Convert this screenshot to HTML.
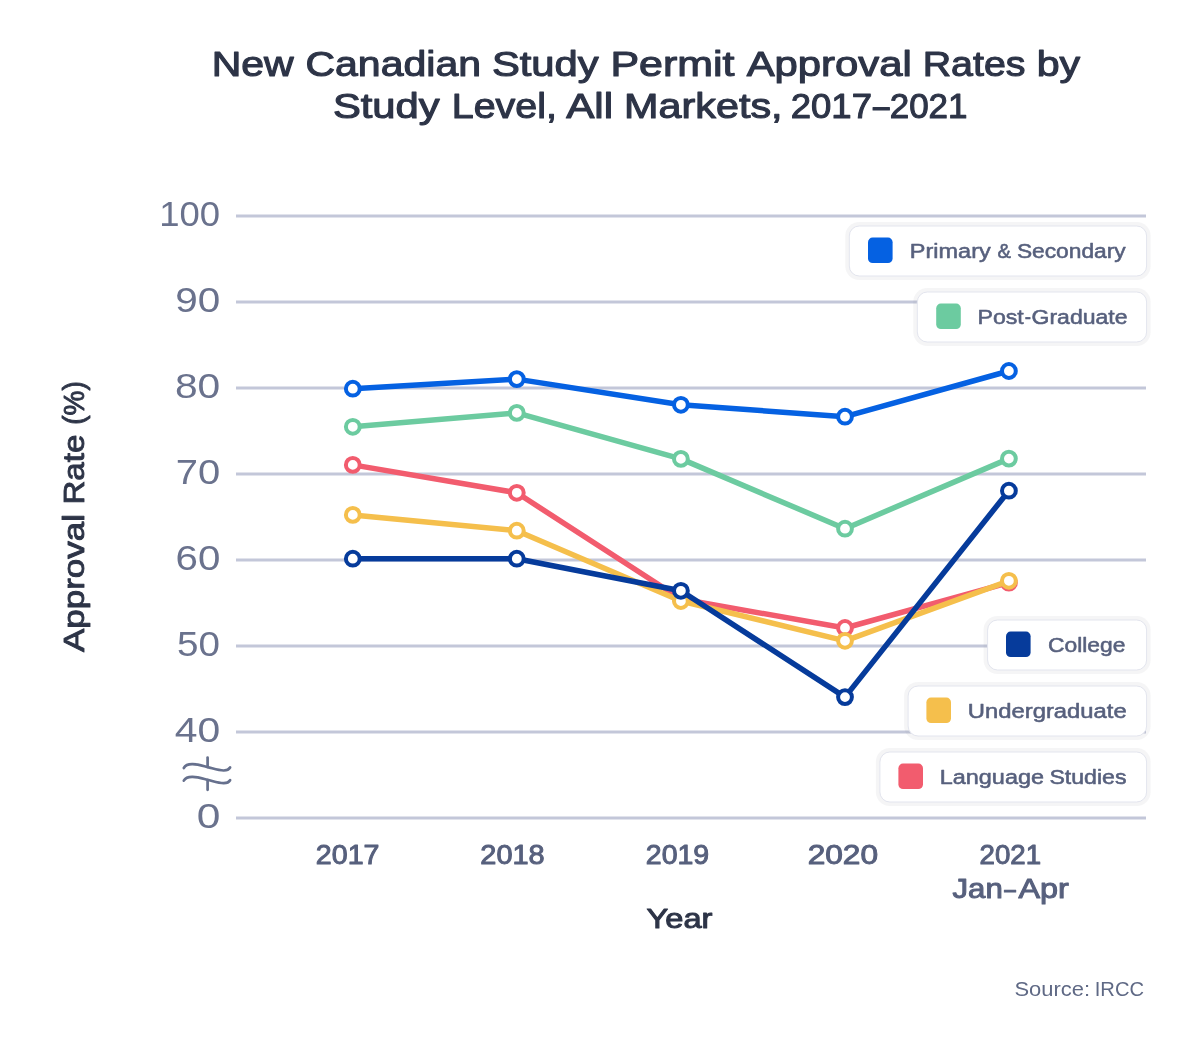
<!DOCTYPE html>
<html>
<head>
<meta charset="utf-8">
<title>New Canadian Study Permit Approval Rates by Study Level</title>
<style>
html,body{margin:0;padding:0;background:#fff;}
body{width:1200px;height:1056px;overflow:hidden;font-family:"Liberation Sans",sans-serif;}
svg{display:block;will-change:transform;}
text{font-family:"Liberation Sans",sans-serif;}
.title{fill:#2d3447;font-size:35.5px;stroke:#2d3447;stroke-width:1.1px;stroke-linejoin:round;}
.ytick{fill:#6a728d;font-size:35.6px;}
.xtick{fill:#57607d;font-size:27.8px;stroke:#57607d;stroke-width:1px;stroke-linejoin:round;}
.axis{fill:#2d3447;font-size:27.6px;stroke:#2d3447;stroke-width:1.0px;stroke-linejoin:round;}
.ylab{fill:#2d3447;font-size:29.5px;stroke:#2d3447;stroke-width:0.9px;stroke-linejoin:round;}
.leg{fill:#57607d;font-size:20.5px;stroke:#57607d;stroke-width:0.55px;stroke-linejoin:round;}
.src{fill:#5f6985;font-size:20.5px;}
.grid line{stroke:#c3c7d9;stroke-width:3;}
.ln{fill:none;stroke-width:5.5;stroke-linejoin:round;stroke-linecap:round;}
.mk circle{fill:#fff;stroke-width:4;}
</style>
</head>
<body>
<svg width="1200" height="1056" viewBox="0 0 1200 1056">
<rect x="0" y="0" width="1200" height="1056" fill="#ffffff"/>
<!-- Gridlines -->
<g class="grid">
<line x1="236" y1="216" x2="1146" y2="216"/>
<line x1="236" y1="302" x2="1146" y2="302"/>
<line x1="236" y1="388" x2="1146" y2="388"/>
<line x1="236" y1="474" x2="1146" y2="474"/>
<line x1="236" y1="560" x2="1146" y2="560"/>
<line x1="236" y1="646" x2="1146" y2="646"/>
<line x1="236" y1="732" x2="1146" y2="732"/>
<line x1="236" y1="818" x2="1146" y2="818"/>
</g>

<!-- Y tick labels -->


<!-- Axis break -->
<g fill="none" stroke="#66708d" stroke-width="2.7" stroke-linecap="round" stroke-linejoin="round">
<line x1="207.6" y1="757.6" x2="207.6" y2="767"/>
<line x1="207.6" y1="780" x2="207.6" y2="789.8"/>
<path d="M183.8 768 C185.6 764.8 188.6 764.1 192.6 764.2 C198.4 764.4 203 766 207.6 767.1 C213 768.4 219 770.6 223.8 770.5 C226.8 770.4 228.9 769.5 230.1 767.5"/>
<path d="M183.8 780.7 C185.6 777.5 188.6 776.8 192.6 776.9 C198.4 777.1 203 778.7 207.6 779.8 C213 781.1 219 783.3 223.8 783.2 C226.8 783.1 228.9 782.2 230.1 780.2"/>
</g>

<!-- Y axis title -->

<!-- X tick labels -->


<!-- Series lines -->
<polyline class="ln" stroke="#0561e2" points="352.8,388.7 516.8,379.1 680.9,404.8 845,416.7 1008.9,371"/>
<polyline class="ln" stroke="#6ccba0" points="352.8,426.8 516.8,412.9 680.9,458.9 845,528.7 1008.9,458.6"/>
<polyline class="ln" stroke="#f25c6e" points="352.8,464.9 516.8,492.8 680.9,599 845,628 1008.9,582.7"/>
<g class="mk" stroke="#f25c6e">
<circle cx="352.8" cy="464.9" r="6.9"/><circle cx="516.8" cy="492.8" r="6.9"/><circle cx="680.9" cy="599" r="6.9"/><circle cx="845" cy="628" r="6.9"/><circle cx="1008.9" cy="582.7" r="6.9"/>
</g>
<polyline class="ln" stroke="#f5bf4c" points="352.8,514.9 516.8,530.7 680.9,601 845,640.8 1008.9,580.8"/>
<g class="mk" stroke="#f5bf4c">
<circle cx="352.8" cy="514.9" r="6.9"/><circle cx="516.8" cy="530.7" r="6.9"/><circle cx="680.9" cy="601" r="6.9"/><circle cx="845" cy="640.8" r="6.9"/><circle cx="1008.9" cy="580.8" r="6.9"/>
</g>
<polyline class="ln" stroke="#063b9b" points="352.8,558.7 516.8,558.7 680.9,590.8 845,697.1 1008.9,490.7"/>
<g class="mk" stroke="#063b9b">
<circle cx="352.8" cy="558.7" r="6.9"/><circle cx="516.8" cy="558.7" r="6.9"/><circle cx="680.9" cy="590.8" r="6.9"/><circle cx="845" cy="697.1" r="6.9"/><circle cx="1008.9" cy="490.7" r="6.9"/>
</g>
<g class="mk" stroke="#0561e2">
<circle cx="352.8" cy="388.7" r="6.9"/><circle cx="516.8" cy="379.1" r="6.9"/><circle cx="680.9" cy="404.8" r="6.9"/><circle cx="845" cy="416.7" r="6.9"/><circle cx="1008.9" cy="371" r="6.9"/>
</g>
<g class="mk" stroke="#6ccba0">
<circle cx="352.8" cy="426.8" r="6.9"/><circle cx="516.8" cy="412.9" r="6.9"/><circle cx="680.9" cy="458.9" r="6.9"/><circle cx="845" cy="528.7" r="6.9"/><circle cx="1008.9" cy="458.6" r="6.9"/>
</g>

<!-- Legend -->
<g id="legend">
<rect x="845.3" y="222.0" width="305.3" height="58.0" rx="14" fill="#8c8ca0" fill-opacity="0.09"/>
<rect x="849.3" y="226.0" width="297.3" height="50" rx="10" fill="#fff" stroke="#e3e5ee" stroke-width="1"/>
<rect x="868.0" y="237.6" width="24.6" height="25.4" rx="4.6" fill="#0561e2"/>
<rect x="913.3" y="288.0" width="237.3" height="58.0" rx="14" fill="#8c8ca0" fill-opacity="0.09"/>
<rect x="917.3" y="292.0" width="229.3" height="50" rx="10" fill="#fff" stroke="#e3e5ee" stroke-width="1"/>
<rect x="936.2" y="303.6" width="24.6" height="25.4" rx="4.6" fill="#6ccba0"/>
<rect x="983.6" y="616.0" width="167.0" height="58.0" rx="14" fill="#8c8ca0" fill-opacity="0.09"/>
<rect x="987.6" y="620.0" width="159.0" height="50" rx="10" fill="#fff" stroke="#e3e5ee" stroke-width="1"/>
<rect x="1006.0" y="631.6" width="24.6" height="25.4" rx="4.6" fill="#063b9b"/>
<rect x="904.1" y="682.0" width="246.5" height="58.0" rx="14" fill="#8c8ca0" fill-opacity="0.09"/>
<rect x="908.1" y="686.0" width="238.5" height="50" rx="10" fill="#fff" stroke="#e3e5ee" stroke-width="1"/>
<rect x="926.4" y="697.6" width="24.6" height="25.4" rx="4.6" fill="#f5bf4c"/>
<rect x="875.9" y="748.0" width="274.7" height="58.0" rx="14" fill="#8c8ca0" fill-opacity="0.09"/>
<rect x="879.9" y="752.0" width="266.7" height="50" rx="10" fill="#fff" stroke="#e3e5ee" stroke-width="1"/>
<rect x="898.4" y="763.6" width="24.6" height="25.4" rx="4.6" fill="#f25c6e"/>
</g>

<!-- Source -->

<!-- Text -->
<text id="t1a" class="title" x="211.70" y="75.8" textLength="82.00" lengthAdjust="spacingAndGlyphs">New</text>
<text id="t1b" class="title" x="305.45" y="75.8" textLength="175.55" lengthAdjust="spacingAndGlyphs">Canadian</text>
<text id="t1c" class="title" x="491.90" y="75.8" textLength="106.80" lengthAdjust="spacingAndGlyphs">Study</text>
<text id="t1d" class="title" x="610.45" y="75.8" textLength="124.00" lengthAdjust="spacingAndGlyphs">Permit</text>
<text id="t1e" class="title" x="746.65" y="75.8" textLength="165.15" lengthAdjust="spacingAndGlyphs">Approval</text>
<text id="t1f" class="title" x="922.70" y="75.8" textLength="102.85" lengthAdjust="spacingAndGlyphs">Rates</text>
<text id="t1g" class="title" x="1036.70" y="75.8" textLength="43.50" lengthAdjust="spacingAndGlyphs">by</text>
<text id="t2a" class="title" x="332.90" y="117.6" textLength="106.80" lengthAdjust="spacingAndGlyphs">Study</text>
<text id="t2b" class="title" x="451.70" y="117.6" textLength="105.30" lengthAdjust="spacingAndGlyphs">Level,</text>
<text id="t2c" class="title" x="566.15" y="117.6" textLength="46.95" lengthAdjust="spacingAndGlyphs">All</text>
<text id="t2d" class="title" x="624.05" y="117.6" textLength="158.55" lengthAdjust="spacingAndGlyphs">Markets,</text>
<text id="t2e" class="title" x="790.75" y="117.6" textLength="81.25" lengthAdjust="spacingAndGlyphs">2017</text>
<text id="t2f" class="title" x="873.00" y="117.6" textLength="16.50" lengthAdjust="spacingAndGlyphs">–</text>
<text id="t2g" class="title" x="889.75" y="117.6" textLength="77.75" lengthAdjust="spacingAndGlyphs">2021</text>
<text id="y100" class="ytick" x="159.25" y="226.1" textLength="60.90" lengthAdjust="spacingAndGlyphs">100</text>
<text id="y90" class="ytick" x="175.30" y="312.2" textLength="45.00" lengthAdjust="spacingAndGlyphs">90</text>
<text id="y80" class="ytick" x="174.95" y="398.2" textLength="45.35" lengthAdjust="spacingAndGlyphs">80</text>
<text id="y70" class="ytick" x="175.85" y="484.2" textLength="44.45" lengthAdjust="spacingAndGlyphs">70</text>
<text id="y60" class="ytick" x="175.50" y="570.2" textLength="44.80" lengthAdjust="spacingAndGlyphs">60</text>
<text id="y50" class="ytick" x="177.05" y="656.2" textLength="42.95" lengthAdjust="spacingAndGlyphs">50</text>
<text id="y40" class="ytick" x="174.85" y="742.2" textLength="45.45" lengthAdjust="spacingAndGlyphs">40</text>
<text id="y0" class="ytick" x="196.75" y="828.2" textLength="23.65" lengthAdjust="spacingAndGlyphs">0</text>
<text id="x17" class="xtick" x="315.85" y="864.3" textLength="63.65" lengthAdjust="spacingAndGlyphs">2017</text>
<text id="x18" class="xtick" x="480.30" y="864.3" textLength="64.40" lengthAdjust="spacingAndGlyphs">2018</text>
<text id="x19" class="xtick" x="645.80" y="864.3" textLength="63.40" lengthAdjust="spacingAndGlyphs">2019</text>
<text id="x20" class="xtick" x="807.65" y="864.3" textLength="70.45" lengthAdjust="spacingAndGlyphs">2020</text>
<text id="x21" class="xtick" x="979.50" y="864.3" textLength="61.55" lengthAdjust="spacingAndGlyphs">2021</text>
<text id="xja" class="xtick" x="952.50" y="898.1" textLength="50.30" lengthAdjust="spacingAndGlyphs">Jan</text>
<text id="xjd" class="xtick" x="1004.20" y="898.1" textLength="11.60" lengthAdjust="spacingAndGlyphs">–</text>
<text id="xjb" class="xtick" x="1018.50" y="898.1" textLength="50.35" lengthAdjust="spacingAndGlyphs">Apr</text>
<text id="year" class="axis" x="646.55" y="927.5" textLength="65.95" lengthAdjust="spacingAndGlyphs">Year</text>
<text id="l1a" class="leg" x="909.85" y="258.2" textLength="80.90" lengthAdjust="spacingAndGlyphs">Primary</text>
<text id="l1b" class="leg" x="997.50" y="258.2" textLength="13.50" lengthAdjust="spacingAndGlyphs">&amp;</text>
<text id="l1c" class="leg" x="1016.90" y="258.2" textLength="108.80" lengthAdjust="spacingAndGlyphs">Secondary</text>
<text id="l2a" class="leg" x="977.50" y="324.0" textLength="46.25" lengthAdjust="spacingAndGlyphs">Post</text>
<text id="l2b" class="leg" x="1024.75" y="324.0" textLength="6.25" lengthAdjust="spacingAndGlyphs">-</text>
<text id="l2c" class="leg" x="1031.50" y="324.0" textLength="96.00" lengthAdjust="spacingAndGlyphs">Graduate</text>
<text id="l3a" class="leg" x="1048.00" y="652.0" textLength="77.40" lengthAdjust="spacingAndGlyphs">College</text>
<text id="l4a" class="leg" x="967.80" y="718.0" textLength="158.95" lengthAdjust="spacingAndGlyphs">Undergraduate</text>
<text id="l5a" class="leg" x="939.75" y="784.0" textLength="104.25" lengthAdjust="spacingAndGlyphs">Language</text>
<text id="l5b" class="leg" x="1049.40" y="784.0" textLength="77.10" lengthAdjust="spacingAndGlyphs">Studies</text>
<text id="srca" class="src" x="1014.40" y="996.0" textLength="75.60" lengthAdjust="spacingAndGlyphs">Source:</text>
<text id="srcb" class="src" x="1094.75" y="996.0" textLength="49.30" lengthAdjust="spacingAndGlyphs">IRCC</text>
<g transform="translate(84.1 652.4) rotate(-90)">
<text id="ra" class="ylab" x="0.30" y="0" textLength="138.20" lengthAdjust="spacingAndGlyphs">Approval</text>
<text id="rb" class="ylab" x="147.80" y="0" textLength="69.95" lengthAdjust="spacingAndGlyphs">Rate</text>
<text id="rc" class="ylab" x="227.70" y="0" textLength="43.45" lengthAdjust="spacingAndGlyphs">(%)</text>
</g>
</svg>
</body>
</html>
